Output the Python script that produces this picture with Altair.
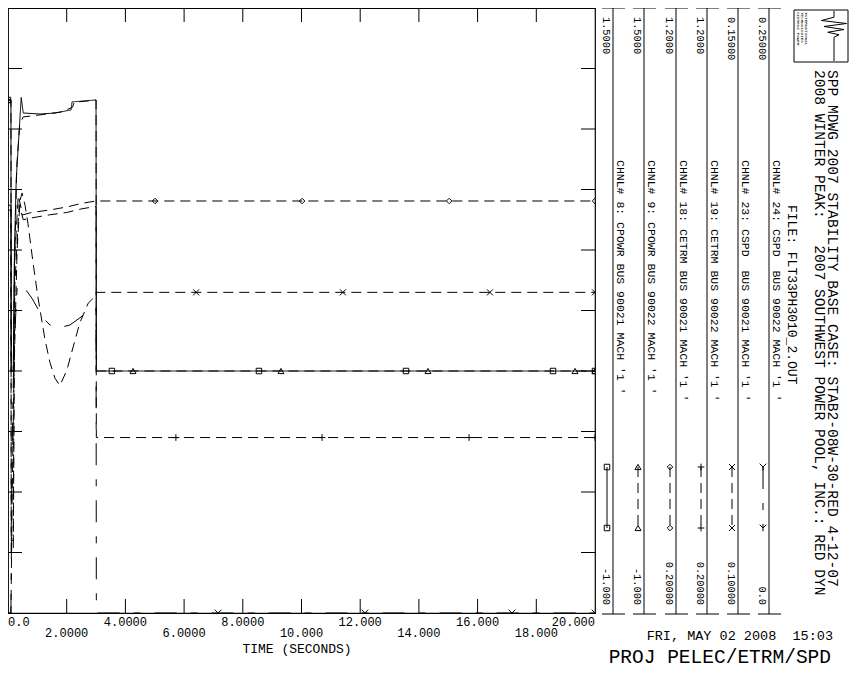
import altair as alt
import pandas as pd

FONT = "Liberation Mono"
NB = "\u00a0"

# ---------------- data ----------------
CHANNELS = ["CH8", "CH9", "CH18", "CH19", "CH23", "CH24"]
CH_NAMES = [
    "CHNL# 8: CPOWR BUS 90021 MACH '1 '",
    "CHNL# 9: CPOWR BUS 90022 MACH '1 '",
    "CHNL# 18: CETRM BUS 90021 MACH '1 '",
    "CHNL# 19: CETRM BUS 90022 MACH '1 '",
    "CHNL# 23: CSPD " + NB + "BUS 90021 MACH '1 '",
    "CHNL# 24: CSPD " + NB + "BUS 90022 MACH '1 '",
]
CH_MIN = [-1.0, -1.0, 0.2, 0.2, 0.10, 0.0]
CH_MAX = [1.5, 1.5, 1.2, 1.2, 0.15, 0.25]
MAX_LABELS = ["1.5000", "1.5000", "1.2000", "1.2000", "0.15000", "0.25000"]
MIN_LABELS = ["-1.000", "-1.000", "0.20000", "0.20000", "0.10000", "0.0"]

CH8_T = [0.0, 0.10, 0.11, 0.18, 0.22, 0.28, 0.45, 0.52, 1.10, 1.60, 2.15, 2.18, 2.60, 3.00, 3.01, 20.0]
CH8_V = [1.12, 1.12, 0.00, 0.00, 0.50, 0.79, 1.13, 1.066, 1.062, 1.066, 1.079, 1.112, 1.116, 1.12, 0.0, 0.0]

CH9_T = [0.0, 0.10, 0.11, 0.18, 0.21, 0.30, 0.40, 0.52, 1.20, 1.80, 2.20, 2.25, 3.00, 3.01, 20.0]
CH9_V = [1.12, 1.12, 0.00, 0.00, 0.35, 0.85, 1.02, 1.05, 1.06, 1.07, 1.09, 1.11, 1.12, 0.0, 0.0]

CH18_T = [0.0, 0.10, 0.11, 0.18, 0.22, 0.35, 0.50, 0.80, 1.40, 2.00, 2.50, 3.00, 20.0]
CH18_V = [0.874, 0.874, 0.32, 0.32, 0.78, 0.89, 0.858, 0.862, 0.866, 0.871, 0.877, 0.881, 0.881]

CH19_T = [0.0, 0.10, 0.11, 0.18, 0.23, 0.38, 0.52, 0.80, 1.40, 2.00, 2.50, 3.00, 3.01, 20.0]
CH19_V = [0.866, 0.866, 0.30, 0.30, 0.74, 0.875, 0.850, 0.853, 0.858, 0.862, 0.868, 0.872, 0.49, 0.49]

CH23_T = [0.0, 0.10, 0.14, 0.20, 0.31, 0.41, 0.48, 0.58, 0.68, 0.85, 1.02, 1.26, 1.43, 1.60,
          1.77, 2.01, 2.22, 2.45, 2.73, 2.90, 3.03, 20.0]
CH23_V = [0.100, 0.100, 0.1093, 0.1193, 0.1300, 0.1341, 0.1347, 0.1337, 0.1322, 0.1290, 0.1261,
          0.1226, 0.1207, 0.1194, 0.1188, 0.1201, 0.1220, 0.1240, 0.1256, 0.1260, 0.1265, 0.1265]

CH24_T = [0.0, 0.10, 0.14, 0.20, 0.31, 0.41, 0.58, 0.82, 1.19, 1.43, 1.77, 2.11, 2.45, 2.79, 3.00, 3.01, 20.0]
CH24_V = [0.0, 0.0, 0.067, 0.109, 0.134, 0.136, 0.134, 0.130, 0.122, 0.119, 0.118, 0.119, 0.122,
          0.125, 0.1256, 0.0, 0.0]

# symbol positions along each curve
MK8_T = [0.0, 3.54, 8.55, 13.56, 18.57, 20.0]
MK8_V = [1.12, 0.0, 0.0, 0.0, 0.0, 0.0]
MK9_T = [0.0, 4.26, 9.30, 14.31, 19.32, 20.0]
MK9_V = [1.12, 0.0, 0.0, 0.0, 0.0, 0.0]
MK18_T = [5.01, 10.02, 15.03, 20.0]
MK18_V = [0.881, 0.881, 0.881, 0.881]
MK19_T = [5.72, 10.70, 15.71, 20.0]
MK19_V = [0.49, 0.49, 0.49, 0.49]
MK23_T = [6.41, 11.41, 16.42, 20.0]
MK23_V = [0.1265, 0.1265, 0.1265, 0.1265]
MK24_T = [7.16, 12.16, 17.17, 20.0]
MK24_V = [0.0, 0.0, 0.0, 0.0]

X_TICKS = [2, 4, 6, 8, 10, 12, 14, 16, 18]
X_LABELS_ROW1 = {0: "0.0", 4: "4.0000", 8: "8.0000", 12: "12.000", 16: "16.000", 20: "20.000"}
X_LABELS_ROW2 = {2: "2.0000", 6: "6.0000", 10: "10.000", 14: "14.000", 18: "18.000"}
Y_TICKS = [0.1, 0.2, 0.3, 0.4, 0.5, 0.6, 0.7, 0.8, 0.9]

SERIES_T = [CH8_T, CH9_T, CH18_T, CH19_T, CH23_T, CH24_T]
SERIES_V = [CH8_V, CH9_V, CH18_V, CH19_V, CH23_V, CH24_V]
MARK_T = [MK8_T, MK9_T, MK18_T, MK19_T, MK23_T, MK24_T]
MARK_V = [MK8_V, MK9_V, MK18_V, MK19_V, MK23_V, MK24_V]

# ---------------- styles ----------------
W, H = 587, 605
DASH = [10, 6]
DASHES = [[1, 0], DASH, DASH, DASH, DASH, [22, 14, 7, 14]]
SHAPES = ["square", "triangle-up", "diamond",
          "M-1,0L1,0M0,-1L0,1",
          "M-1,-1L1,1M-1,1L1,-1",
          "M-1,-1L0,0L1,-1M0,0L0,1"]
SIZES = [30, 36, 30, 45, 36, 45]

rows, mrows = [], []
for ch, T, V, lo, hi in zip(CHANNELS, SERIES_T, SERIES_V, CH_MIN, CH_MAX):
    for i, (t, v) in enumerate(zip(T, V)):
        rows.append({"ch": ch, "i": i, "t": t, "f": (v - lo) / (hi - lo)})
for ch, T, V, lo, hi in zip(CHANNELS, MARK_T, MARK_V, CH_MIN, CH_MAX):
    for t, v in zip(T, V):
        mrows.append({"ch": ch, "t": t, "f": (v - lo) / (hi - lo)})
df = pd.DataFrame(rows)
mdf = pd.DataFrame(mrows)

xs = alt.Scale(domain=[0, 20], nice=False, zero=False)
ys = alt.Scale(domain=[0, 1], nice=False, zero=False)
X = alt.X("t:Q", scale=xs, axis=None)
Y = alt.Y("f:Q", scale=ys, axis=None)

layers = []

# curves
layers.append(
    alt.Chart(df).mark_line(clip=True, color="black", strokeWidth=1).encode(
        x=X, y=Y,
        strokeDash=alt.StrokeDash("ch:N", scale=alt.Scale(domain=CHANNELS, range=DASHES), legend=None),
        order="i:Q",
    )
)
# symbols
for ch, shp, sz in zip(CHANNELS, SHAPES, SIZES):
    layers.append(
        alt.Chart(mdf[mdf.ch == ch]).mark_point(
            clip=True, shape=shp, size=sz, filled=False, color="black", strokeWidth=1, opacity=1
        ).encode(x=X, y=Y)
    )

# frame ticks
xt = pd.DataFrame({"t": X_TICKS})
yt = pd.DataFrame({"f": Y_TICKS})
tick = dict(color="black", strokeWidth=1)
layers.append(alt.Chart(xt).mark_rule(**tick).encode(x=X, y=alt.value(0), y2=alt.value(14)))
layers.append(alt.Chart(xt).mark_rule(**tick).encode(x=X, y=alt.value(H - 14), y2=alt.value(H)))
layers.append(alt.Chart(yt).mark_rule(**tick).encode(y=Y, x=alt.value(0), x2=alt.value(14)))
layers.append(alt.Chart(yt).mark_rule(**tick).encode(y=Y, x=alt.value(W - 14), x2=alt.value(W)))

# x tick labels (two staggered rows)
r1 = pd.DataFrame({"t": list(X_LABELS_ROW1.keys()), "lab": list(X_LABELS_ROW1.values())})
r2 = pd.DataFrame({"t": list(X_LABELS_ROW2.keys()), "lab": list(X_LABELS_ROW2.values())})
lab_style = dict(font=FONT, fontSize=12, color="black", baseline="middle")
layers.append(alt.Chart(r1[(r1.t > 0) & (r1.t < 20)]).mark_text(align="center", **lab_style)
              .encode(x=X, y=alt.value(614), text="lab:N"))
layers.append(alt.Chart(r1[r1.t == 0]).mark_text(align="left", **lab_style)
              .encode(x=X, y=alt.value(614), text="lab:N"))
layers.append(alt.Chart(r1[r1.t == 20]).mark_text(align="right", **lab_style)
              .encode(x=X, y=alt.value(614), text="lab:N"))
layers.append(alt.Chart(r2).mark_text(align="center", **lab_style)
              .encode(x=X, y=alt.value(625), text="lab:N"))

one = alt.Data(values=[{"a": 1}])


def txt(s, x, y, size, angle=0, align="left", baseline="middle"):
    kw = dict(text=s, align=align, baseline=baseline, fontSize=size, font=FONT, color="black")
    if angle:
        kw["angle"] = angle
    return alt.Chart(one).mark_text(**kw).encode(x=alt.value(x), y=alt.value(y))


def seg(x1, y1, x2, y2, dash=None, w=1):
    kw = dict(color="black", strokeWidth=w)
    if dash:
        kw["strokeDash"] = dash
    return alt.Chart(one).mark_rule(**kw).encode(
        x=alt.value(x1), y=alt.value(y1), x2=alt.value(x2), y2=alt.value(y2))


def sym(x, y, shp, sz):
    return alt.Chart(one).mark_point(shape=shp, size=sz, filled=False, color="black",
                                     strokeWidth=1, opacity=1).encode(x=alt.value(x), y=alt.value(y))


layers.append(txt("TIME (SECONDS)", 289, 641, 13, align="center"))

# legend columns (rotated)
LINE_X = [605, 636, 668, 699, 730, 761]
for k in range(6):
    lx = LINE_X[k]
    layers.append(seg(lx, 0, lx, 606))
    layers.append(seg(lx - 11, 0, lx + 12, 0))
    layers.append(seg(lx - 11, 606, lx + 12, 606))
    layers.append(txt(MAX_LABELS[k], lx - 7, 9, 10.3, angle=90, align="left"))
    layers.append(txt(MIN_LABELS[k], lx - 7, 597, 10.3, angle=90, align="right"))
    layers.append(txt(CH_NAMES[k], lx + 7, 152, 11.5, angle=90, align="left"))
    sx = lx - 6
    layers.append(seg(sx, 459, sx, 520, dash=DASHES[k] if k else None))
    layers.append(sym(sx, 459, SHAPES[k], SIZES[k]))
    layers.append(sym(sx, 520, SHAPES[k], SIZES[k]))

# header text
layers.append(txt("FILE: FLT33PH3010_2.OUT", 784, 197, 13, angle=90, align="left"))
layers.append(txt("2008 WINTER PEAK:" + NB * 3 + "2007 SOUTHWEST POWER POOL, INC.: RED DYN",
                  811, 62, 14.6, angle=90, align="left"))
layers.append(txt("SPP MDWG 2007 STABILITY BASE CASE: STAB2-08W-30-RED 4-12-07",
                  824, 62, 14.6, angle=90, align="left"))

# logo
layers.append(alt.Chart(one).mark_rect(fill="white", stroke="black", strokeWidth=1).encode(
    x=alt.value(786), x2=alt.value(840), y=alt.value(2), y2=alt.value(54)))
layers.append(txt("SIEMENS POWER", 790, 4, 4.3, angle=90, align="left"))
layers.append(txt("TECHNOLOGIES", 794, 4, 4.3, angle=90, align="left"))
layers.append(txt("INTERNATIONAL", 798, 4, 4.3, angle=90, align="left"))
layers.append(sym(826, 28, "M0,-1L0,-0.75L-0.5,-0.62L0.5,-0.5L-0.4,-0.38L0.4,-0.26L-0.25,-0.15L0.2,-0.05L0,0.05L0,1", 2500))

# footer
layers.append(txt("FRI, MAY 02 2008" + NB * 2 + "15:03", 825, 628, 13.5, align="right"))
layers.append(txt("PROJ PELEC/ETRM/SPD", 823, 649, 19.5, align="right"))

chart = alt.layer(*layers).properties(
    width=W, height=H,
    padding={"left": 0, "top": 0, "right": 254, "bottom": 57},
    autosize=alt.AutoSizeParams(type="none"),
    background="white",
).configure_view(stroke="black", strokeWidth=1.2)

chart.save("out.html", embed_options={"renderer": "svg", "actions": False})
